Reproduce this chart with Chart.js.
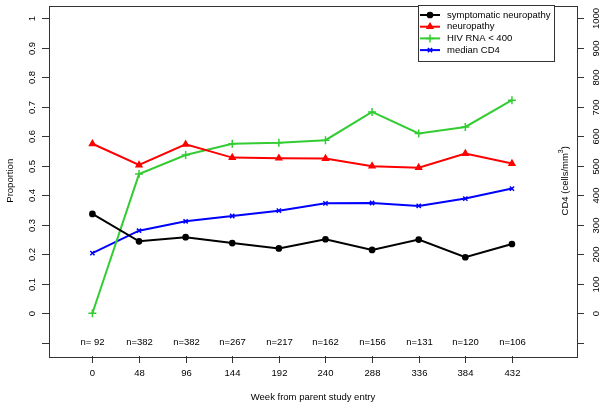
<!DOCTYPE html>
<html>
<head>
<meta charset="utf-8">
<script src="https://cdn.jsdelivr.net/npm/chart.js@4"></script>
<style>
  body { margin: 0; background: #fff; }
</style>
</head>
<body>
<canvas id="myChart" width="604" height="406"></canvas>
<script>
// weeks from parent study entry, with the number of subjects at each visit
const weeks = [0, 48, 96, 144, 192, 240, 288, 336, 384, 432];
const nLabels = ['n= 92', 'n=382', 'n=382', 'n=267', 'n=217', 'n=162', 'n=156', 'n=131', 'n=120', 'n=106'];

// proportions (left axis)
const symptomatic = [0.337, 0.244, 0.258, 0.238, 0.220, 0.251, 0.215, 0.250, 0.190, 0.235];
const neuropathy = [0.575, 0.503, 0.573, 0.528, 0.526, 0.525, 0.499, 0.494, 0.542, 0.508];
const hivRna = [0.000, 0.472, 0.537, 0.575, 0.578, 0.587, 0.683, 0.610, 0.632, 0.723];
// median CD4 (right axis, cells/mm3)
const cd4 = [204, 280, 312, 330, 348, 373, 374, 364, 389, 423];

// axis ticks
const leftTicks = [-0.1, 0, 0.1, 0.2, 0.3, 0.4, 0.5, 0.6, 0.7, 0.8, 0.9, 1];
const leftTickLabels = ['', '0', '0.1', '0.2', '0.3', '0.4', '0.5', '0.6', '0.7', '0.8', '0.9', '1'];
const rightTicks = [-100, 0, 100, 200, 300, 400, 500, 600, 700, 800, 900, 1000];
const rightTickLabels = ['', '0', '100', '200', '300', '400', '500', '600', '700', '800', '900', '1000'];

const FONT = '9.5px "Liberation Sans", Arial, sans-serif';
const SUP = '7px "Liberation Sans", Arial, sans-serif';
const TXT = '#000';

function pts(arr) {
    return weeks.map((w, i) => ({ x: w, y: arr[i] }));
}

const series = [
    { label: 'symptomatic neuropathy', data: symptomatic, color: '#000000', style: 'circle', r: 2.6, axis: 'y' },
    { label: 'neuropathy', data: neuropathy, color: '#ff0000', style: 'triangle', r: 3.3, axis: 'y' },
    { label: 'HIV RNA < 400', data: hivRna, color: '#33cc33', style: 'cross', r: 4, axis: 'y' },
    { label: 'median CD4', data: cd4, color: '#0000ff', style: 'crossRot', r: 3, axis: 'y2' }
];

// R style axes, box, n= labels and legend
const rAxes = {
    id: 'rAxes',
    afterDraw(chart) {
        const ctx = chart.ctx;
        const a = chart.chartArea;
        const xs = chart.scales.x, ys = chart.scales.y, ys2 = chart.scales.y2;
        ctx.save();
        ctx.strokeStyle = '#333';
        ctx.lineWidth = 1;
        ctx.strokeRect(Math.round(a.left) + 0.5, Math.round(a.top) + 0.5, Math.round(a.right - a.left), Math.round(a.bottom - a.top));
        ctx.font = FONT;
        ctx.fillStyle = TXT;

        // left axis
        leftTicks.forEach((v, i) => {
            const y = Math.round(ys.getPixelForValue(v)) + 0.5;
            ctx.beginPath();
            ctx.moveTo(a.left - 7, y);
            ctx.lineTo(a.left, y);
            ctx.stroke();
            if (leftTickLabels[i]) {
                ctx.save();
                ctx.translate(a.left - 17, y);
                ctx.rotate(-Math.PI / 2);
                ctx.textAlign = 'center';
                ctx.textBaseline = 'middle';
                ctx.fillText(leftTickLabels[i], 0, 0);
                ctx.restore();
            }
        });
        // right axis
        rightTicks.forEach((v, i) => {
            const y = Math.round(ys2.getPixelForValue(v)) + 0.5;
            ctx.beginPath();
            ctx.moveTo(a.right, y);
            ctx.lineTo(a.right + 7, y);
            ctx.stroke();
            if (rightTickLabels[i]) {
                ctx.save();
                ctx.translate(a.right + 19, y);
                ctx.rotate(-Math.PI / 2);
                ctx.textAlign = 'center';
                ctx.textBaseline = 'middle';
                ctx.fillText(rightTickLabels[i], 0, 0);
                ctx.restore();
            }
        });
        // bottom axis
        weeks.forEach((w, i) => {
            const x = Math.round(xs.getPixelForValue(w)) + 0.5;
            ctx.beginPath();
            ctx.moveTo(x, a.bottom);
            ctx.lineTo(x, a.bottom + 7);
            ctx.stroke();
            ctx.textAlign = 'center';
            ctx.textBaseline = 'middle';
            ctx.fillText(String(w), x, a.bottom + 17);
            ctx.fillText(nLabels[i], x, ys.getPixelForValue(-0.1));
        });

        // titles
        ctx.textAlign = 'center';
        ctx.textBaseline = 'middle';
        ctx.fillText('Week from parent study entry', (a.left + a.right) / 2, a.bottom + 41);
        ctx.save();
        ctx.translate(10, (a.top + a.bottom) / 2);
        ctx.rotate(-Math.PI / 2);
        ctx.fillText('Proportion', 0, 0);
        ctx.restore();
        ctx.save();
        ctx.translate(a.right - 12, (a.top + a.bottom) / 2);
        ctx.rotate(-Math.PI / 2);
        const t1 = 'CD4 (cells/mm', t2 = ')';
        const w1 = ctx.measureText(t1).width;
        const w2 = ctx.measureText(t2).width;
        ctx.font = SUP;
        const w3 = ctx.measureText('3').width;
        const sx = -(w1 + w3 + w2) / 2;
        ctx.textAlign = 'left';
        ctx.fillText('3', sx + w1, -4);
        ctx.font = FONT;
        ctx.fillText(t1, sx, 0);
        ctx.fillText(t2, sx + w1 + w3, 0);
        ctx.restore();

        // legend
        const lx = 418, ly = 5, lw = 136, lh = 56;
        ctx.fillStyle = '#fff';
        ctx.fillRect(lx, ly, lw, lh);
        ctx.strokeStyle = '#333';
        ctx.lineWidth = 1;
        ctx.strokeRect(lx + 0.5, ly + 0.5, lw, lh);
        series.forEach((s, i) => {
            const y = 15 + i * 11.7;
            ctx.strokeStyle = s.color;
            ctx.fillStyle = s.color;
            ctx.lineWidth = 2;
            ctx.beginPath();
            ctx.moveTo(420, y);
            ctx.lineTo(440, y);
            ctx.stroke();
            ctx.lineWidth = 1.5;
            Chart.helpers.drawPoint(ctx, { pointStyle: s.style, radius: s.r, borderWidth: 1.5, rotation: 0 }, 430, y);
            ctx.fillStyle = TXT;
            ctx.textAlign = 'left';
            ctx.textBaseline = 'middle';
            ctx.fillText(s.label, 447, y);
        });
        ctx.restore();
    }
};

const ctx = document.getElementById('myChart').getContext('2d');
const myChart = new Chart(ctx, {
    type: 'line',
    data: {
        datasets: series.map(s => ({
            label: s.label,
            data: pts(s.data),
            yAxisID: s.axis,
            borderColor: s.color,
            backgroundColor: s.color,
            pointBorderColor: s.color,
            pointBackgroundColor: s.color,
            pointStyle: s.style,
            pointRadius: s.r,
            pointBorderWidth: 1.5,
            borderWidth: 2,
            tension: 0
        }))
    },
    options: {
        responsive: false,
        animation: false,
        layout: { padding: { left: 49, top: 5, right: 27, bottom: 50 } },
        plugins: { legend: { display: false }, tooltip: { enabled: false } },
        scales: {
            x: { type: 'linear', min: -44.7, max: 499, display: false },
            y: { min: -0.145, max: 1.044, display: false },
            y2: { min: -145, max: 1044, display: false, position: 'right' }
        }
    },
    plugins: [rAxes]
});
</script>
</body>
</html>
